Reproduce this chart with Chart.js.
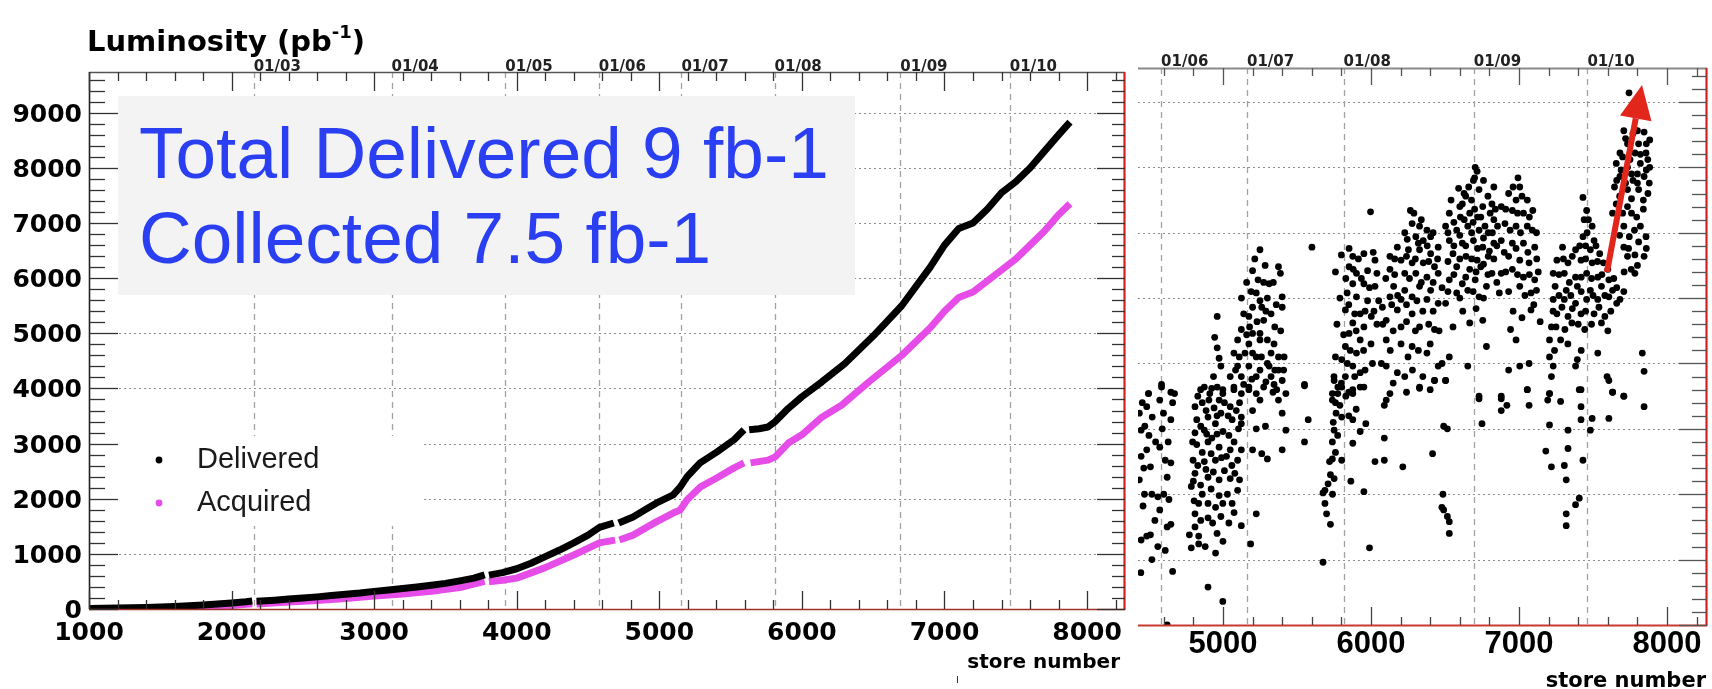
<!DOCTYPE html>
<html><head><meta charset="utf-8">
<script src="https://cdn.jsdelivr.net/npm/chart.js@4.4.1/dist/chart.umd.min.js"></script>
<style>
html,body{margin:0;padding:0;background:#fff;}
#wrap{position:relative;width:1712px;height:689px;overflow:hidden;background:#fff;}
#c1{position:absolute;left:0;top:0;}
#c2{position:absolute;left:1130px;top:0;}
</style></head><body>
<div id="wrap"><canvas id="c1" width="1130" height="689"></canvas><canvas id="c2" width="582" height="689"></canvas></div>
<script>
// ---------- data: left panel (integrated luminosity, pb^-1 vs store number) ----------
const xTicks = [1000, 2000, 3000, 4000, 5000, 6000, 7000, 8000];
const yTicks = [0, 1000, 2000, 3000, 4000, 5000, 6000, 7000, 8000, 9000];
const dateLabels = ['01/03', '01/04', '01/05', '01/06', '01/07', '01/08', '01/09', '01/10'];
const dateStores = [2155, 3122, 3920, 4575, 5155, 5808, 6690, 7458];
const seriesNames = ['Delivered', 'Acquired'];
const delivStore = [1000,1100,1200,1300,1400,1500,1600,1700,1800,1900,2000,2100,2145,2160,2175,2300,2400,2500,2600,2700,2800,2900,3000,3100,3200,3300,3400,3500,3600,3700,3775,3790,3805,3900,4000,4100,4200,4300,4400,4500,4580,4680,4700,4715,4816,4900,4978,5097,5146,5195,5286,5405,5524,5594,5612,5630,5700,5762,5813,5905,6000,6140,6300,6500,6700,6900,7000,7100,7200,7300,7400,7500,7600,7700,7800,7880];
const delivLumi  = [10,12,18,22,28,35,45,58,72,90,110,130,145,null,140,160,180,200,220,245,268,290,320,345,370,400,430,465,510,560,620,null,615,660,730,830,950,1070,1200,1340,1480,1560,null,1560,1670,1800,1920,2070,2210,2400,2650,2850,3070,3250,null,3250,3270,3300,3400,3640,3850,4120,4450,4950,5500,6200,6600,6900,7000,7250,7550,7750,8000,8300,8600,8830];
const acqStore = [1000,1200,1400,1600,1800,2000,2100,2145,2160,2175,2400,2600,2800,3000,3200,3400,3600,3775,3790,3805,3900,4000,4200,4400,4580,4690,4705,4720,4816,4978,5097,5146,5195,5286,5405,5524,5594,5617,5640,5762,5813,5905,6000,6140,6280,6470,6700,6900,7000,7100,7200,7300,7400,7500,7600,7700,7800,7880];
const acqLumi  = [0,5,12,22,40,65,85,95,null,92,125,155,190,235,270,320,390,500,null,495,520,560,750,980,1200,1250,null,1250,1340,1580,1740,1795,1980,2210,2380,2560,2650,null,2650,2700,2760,3010,3160,3480,3700,4120,4600,5100,5400,5650,5750,5950,6150,6350,6600,6850,7150,7350];

// ---------- data: right panel (initial luminosity per store, 1e30 cm^-2 s^-1) ----------
const rightXTicks = [5000, 6000, 7000, 8000];
const rightDateLabels = ['01/06', '01/07', '01/08', '01/09', '01/10'];
const rightDateStores = [4582, 5162, 5815, 6695, 7462];
const rightPoints = [
 [4497,177],[4585,182],[4648,178],[4673,177],
 [4961,236],[4944,220],[4961,212],[4974,204],[4986,198],[4936,190],[4961,182],[4874,182],[4911,177],[4999,180],
 [5250,287],[5200,271],[5237,264],[5275,262],[5312,261],[5375,274],[5388,269],[5225,254],[5250,248],[5200,243],[5262,243],[5325,238],[5400,251],[5400,243],[5175,236],[5275,233],[5124,226],[5200,223],[5250,223],[5350,228],[5099,218],[5175,215],[5250,218],[5300,218],[5074,208],[5149,208],[5225,205],[5325,208],[5375,205],[5413,205],[5099,198],[5175,198],[5250,195],[5312,198],[5375,195],[5049,190],[5124,190],[5225,190],[5325,190],[5400,187],[5074,182],[5175,180],[5275,182],[5363,180],[5425,177],
 [5125,250],[5160,262],[5190,255],[5215,280],[5285,275],[5300,250],[5340,262],[5360,245],[5140,238],[5180,228],[5230,232],[5290,240],[5345,215],[5390,225],[5110,205],[5160,222],[5200,208],[5260,205],[5300,200],[5350,195],[5085,195],[5140,184],[5195,188],[5290,186],[5345,184],[5410,195],
 [5601,289],[5551,183],
 [5852,288],[5877,282],[5952,284],[6015,285],[6027,279],[5852,274],[5902,269],[5977,271],[6040,269],[5877,261],[5952,261],[6027,259],[5839,254],[5902,251],[5977,248],[6052,248],[5827,241],[5927,238],[6002,236],[5877,231],[5952,228],[5852,223],[5927,218],[5827,213],[5902,208],[5802,203],[5877,198],[5927,193],[5827,190],[5776,182],[5877,180],[5952,182],[5739,177],[5997,316],
 [5760,270],[5800,283],[5830,265],[5880,272],[5915,280],[5935,265],[5990,258],[6020,240],[5790,250],[5850,245],[5890,238],[5960,240],[6040,230],[5770,230],[5815,222],[5860,210],[5900,225],[5950,210],[6000,215],[5760,205],[5840,200],[5890,190],[5960,195],[6010,200],[5750,190],[5800,185],[5850,178],
 [6266,317],[6278,307],[6328,305],[6378,302],[6228,300],[6303,297],[6353,294],[6403,297],[6178,289],[6253,287],[6328,287],[6403,284],[6454,289],[6128,282],[6203,279],[6278,277],[6353,277],[6429,274],[6128,272],[6228,269],[6303,269],[6378,266],[6454,269],[6153,259],[6228,256],[6328,259],[6403,256],[6128,251],[6203,249],[6278,251],[6378,249],[6454,246],[6077,243],[6178,241],[6278,238],[6103,233],[6203,228],[6328,228],[6429,226],[6103,218],[6203,215],[6278,213],[6378,208],[6454,198],[6103,198],[6178,193],[6228,190],[6429,187],[6504,187],[6328,182],[6128,177],
 [6290,315],[6340,310],[6245,295],[6320,292],[6380,290],[6420,300],[6160,280],[6240,282],[6300,280],[6390,278],[6450,280],[6100,265],[6160,268],[6260,265],[6340,262],[6420,262],[6480,258],[6140,245],[6180,252],[6240,245],[6310,248],[6350,240],[6420,240],[6080,230],[6150,225],[6240,232],[6300,225],[6390,230],[6460,225],[6130,210],[6250,205],[6320,210],[6400,215],[6150,185],[6280,195],[6350,190],[6480,200],[6070,200],[6240,178],[6400,180],
 [6704,350],[6717,347],[6692,340],[6592,334],[6629,330],[6730,333],[6830,335],[6541,325],[6617,322],[6679,325],[6755,320],[6817,322],[6529,315],[6604,312],[6667,315],[6742,312],[6805,315],[6504,305],[6579,302],[6654,305],[6730,302],[6792,300],[6855,305],[6529,294],[6617,292],[6692,294],[6755,289],[6830,292],[6554,284],[6642,282],[6717,279],[6792,282],[6579,274],[6667,272],[6742,274],[6817,269],[6529,264],[6617,261],[6704,264],[6780,259],[6579,254],[6654,256],[6730,251],[6504,246],[6667,231],[6755,233],[6780,213],[6654,198],[6529,205],[6554,228],[6730,175],
 [6700,342],[6660,335],[6760,340],[6600,320],[6640,328],[6700,318],[6790,328],[6840,318],[6560,308],[6630,310],[6690,308],[6720,312],[6770,305],[6830,310],[6520,300],[6600,298],[6680,300],[6760,296],[6820,300],[6560,290],[6640,290],[6720,288],[6800,286],[6850,290],[6520,278],[6600,280],[6680,280],[6760,276],[6830,280],[6560,268],[6640,266],[6710,270],[6790,268],[6600,250],[6690,255],[6760,250],[6520,255],[6850,262],[6620,240],[6710,242],
 [6993,342],[7005,335],[6930,330],[6980,325],[7056,325],[6880,320],[6955,317],[7030,315],[7093,317],[6905,307],[6980,305],[7056,305],[7118,300],[6880,294],[6955,292],[7030,292],[7106,289],[6930,282],[7005,279],[7068,277],[6880,269],[6955,272],[7030,266],[7106,264],[7005,259],[7081,254],[7118,256],[6867,254],[6943,226],[7081,241],[7143,232],[6980,218],[6930,195],[7005,198],[7068,200],[7056,180],[6880,175],
 [6960,335],[7020,328],[6910,318],[6990,315],[7070,312],[6940,302],[7010,300],[7090,302],[6900,285],[6980,288],[7060,285],[7120,280],[6910,270],[6990,268],[7070,268],[7130,270],[6930,255],[7040,252],[7100,245],[6960,240],[7020,235],
 [7432,327],[7457,317],[7469,310],[7494,305],[7432,297],[7507,294],[7294,289],[7382,287],[7482,287],[7545,284],[7256,279],[7331,277],[7419,279],[7494,277],[7570,277],[7231,269],[7306,269],[7382,266],[7457,269],[7532,266],[7607,264],[7244,259],[7319,256],[7394,259],[7482,256],[7557,259],[7632,256],[7231,249],[7306,249],[7382,246],[7457,249],[7532,249],[7607,251],[7682,249],[7708,255],[7256,238],[7331,236],[7419,238],[7507,238],[7557,231],[7219,228],[7357,231],[7444,226],[7206,218],[7281,218],[7206,205],[7231,198],[7382,198],[7394,203],[7219,190],[7419,180],[7532,208],[7595,190],[7632,178],[7206,177],
 [7440,310],[7460,300],[7410,290],[7450,290],[7520,290],[7300,280],[7360,282],[7450,280],[7530,278],[7600,272],[7270,268],[7340,262],[7420,266],[7490,265],[7560,268],[7640,265],[7270,252],[7350,252],[7420,255],[7500,252],[7580,252],[7660,258],[7230,240],[7290,243],[7360,242],[7450,240],[7540,243],[7620,240],[7660,246],[7250,228],[7310,226],[7400,230],[7490,230],[7580,236],[7240,210],[7330,215],[7420,210],[7600,225],
 [7708,378],[7770,376],[7845,377],[7883,371],[7733,368],[7808,368],[7682,361],[7783,361],[7858,361],[7657,353],[7733,350],[7820,353],[7883,350],[7682,343],[7770,340],[7845,343],[7645,335],[7733,333],[7808,333],[7871,330],[7657,322],[7733,320],[7795,312],[7632,315],[7708,305],[7745,297],[7858,297],[7808,293],[7708,289],[7733,282],[7783,283],[7845,282],[7758,272],[7783,269],[7833,208],[7845,194],[7708,175],[7743,407],
 [7720,372],[7800,378],[7860,368],[7700,358],[7750,356],[7820,360],[7870,356],[7690,348],[7760,345],[7800,345],[7860,348],[7660,340],[7720,338],[7800,338],[7880,338],[7680,328],[7760,326],[7840,325],[7700,315],[7760,315],[7840,318],[7680,298],[7780,302],[7820,305],[7740,288],[7860,288],[7800,275],[7710,270],
 [4435,162],[4472,152],[4447,149],[4497,177],[4485,167],[4522,159],[4447,129],[4485,134],[4510,121],[4435,111],[4460,91],[4485,68],[4447,65],[4510,69],
 [4455,170],[4500,145],[4465,120],[4520,100],[4545,140],[4590,150],[4630,140],[4660,170],[4600,100],[4540,80],[4470,100],[4520,50],[4560,60],[4445,40],
 [4585,184],[4573,172],[4598,162],[4648,157],[4573,136],[4610,126],[4648,124],[4623,113],[4560,98],[4573,88],[4635,96],[4623,75],[4648,77],[4610,57],[4660,41],[4623,0],
 [4849,180],[4924,181],[4999,177],[5074,180],[5124,177],[4811,167],[4886,164],[4974,172],[5049,167],[5112,170],[4823,157],[4899,159],[4986,162],[5062,157],[5124,159],[4811,147],[4874,149],[4949,154],[4823,138],[4899,140],[4974,136],[5049,134],[5124,134],[4798,126],[4874,125],[4949,126],[5024,129],[5099,126],[4811,116],[4899,113],[4974,111],[5049,112],[5112,111],[4786,106],[4849,107],[5099,103],[4974,99],[4836,93],[4899,93],[4999,93],[5062,93],[4811,85],[4899,82],[4986,83],[4811,75],[5124,76],[4773,69],[4836,68],[4836,62],[4786,59],[4899,29],[4999,18],
 [4830,175],[4860,170],[4905,172],[4940,166],[4960,160],[5010,170],[5035,160],[5090,164],[5105,150],[4850,152],[4890,146],[4925,143],[4960,146],[5000,148],[5040,145],[5075,140],[4795,140],[4860,132],[4920,131],[4990,128],[5060,122],[4830,122],[4885,119],[4935,117],[5010,118],[5080,116],[4800,110],[4860,100],[4920,104],[4950,90],[5030,100],[5075,86],[4850,80],[4930,78],[4960,70],[5040,78],[4805,95],[4880,60],[4950,55],[5000,64],
 [5175,182],[5225,177],[5250,172],[5200,164],[5124,154],[5225,150],[5287,152],[5338,178],[5375,172],[5400,162],[5425,149],[5400,134],[5200,134],[5262,131],[5300,127],[5225,85],[5187,62],[5551,184],[5576,157],[5551,140],
 [5751,187],[5776,177],[5802,182],[5739,172],[5764,162],[5802,159],[5877,157],[5751,149],[5739,140],[5739,127],[5802,126],[5726,115],[5751,112],[5689,103],[5676,101],[5689,93],[5726,77],[5676,48],[5864,110],[5877,139],[5927,148],[5965,154],[5952,102],[5990,59],[5927,182],[5877,177],
 [5760,170],[5790,168],[5745,155],[5775,145],[5760,132],[5720,125],[5710,108],[5740,100],[5700,85],[5830,175],[5850,160],[5900,165],
 [6103,172],[6090,168],[6090,143],[6027,125],[6090,126],[6215,121],[6328,181],[6429,187],[6504,187],[6491,152],[6516,150],[6416,131],[6486,100],[6479,90],[6491,88],[6516,83],[6529,79],[6529,70],
 [6730,173],[6750,154],[6880,173],[6880,164],[6918,168],[7068,168],[7056,180],[7206,177],[7194,172],[7281,171],[7206,153],[7181,133],[7219,121],[7331,149],[7331,135],[7306,122],[7319,111],[7382,92],[7407,97],[7319,85],[7319,76],[7432,126],[7419,167],[7407,180],[7482,149],[7494,158],[7419,157],[7607,158],[7632,178],[7708,175],[7607,187],[7845,167]
];
const arrowFrom = [7594, 270];
const arrowTo = [7831, 413];

// ---------- styling ----------
const MAG = '#e54ce8';
const BLUE = '#2b3ff2';

function seg(ctx, x1, y1, x2, y2, color, w, pattern) {
  ctx.save(); ctx.beginPath(); ctx.setLineDash(pattern || []);
  ctx.strokeStyle = color; ctx.lineWidth = w;
  ctx.moveTo(x1, y1); ctx.lineTo(x2, y2); ctx.stroke(); ctx.restore();
}
function isMajor(v, m) { return Math.abs(v / m - Math.round(v / m)) < 1e-6; }
function xTickMarks(ctx, sc, from, to, step, maj, y, dir, lMaj, lMin, color) {
  for (let v = from; v <= to + 1e-6; v += step) {
    const x = Math.round(sc.getPixelForValue(v)) + 0.5;
    const L = isMajor(v, maj) ? lMaj : lMin;
    seg(ctx, x, y, x, y + dir * L, color, 1.3);
  }
}
function yTickMarks(ctx, sc, from, to, step, maj, x, dir, lMaj, lMin, color) {
  for (let v = from; v <= to + 1e-6; v += step) {
    const y = Math.round(sc.getPixelForValue(v)) + 0.5;
    const L = isMajor(v, maj) ? lMaj : lMin;
    seg(ctx, x, y, x + dir * L, y, color, 1.3);
  }
}

// ---------- left chart ----------
const leftDecor = {
  id: 'leftDecor',
  beforeDatasetsDraw(chart) {
    const ctx = chart.ctx, a = chart.chartArea, xs = chart.scales.x, ys = chart.scales.y;
    yTicks.forEach(v => { if (v > 0) { const y = Math.round(ys.getPixelForValue(v)) + 0.5; seg(ctx, a.left, y, a.right, y, '#8e8e8e', 1, [2, 3]); } });
    dateStores.forEach(v => { const x = Math.round(xs.getPixelForValue(v)) + 0.5; seg(ctx, x, a.top, x, a.bottom, '#a2a2a2', 1.3, [6, 5]); });
    ctx.save();
    ctx.fillStyle = '#ffffff'; ctx.fillRect(a.left + 1, 436, 332, 90);
    ctx.fillStyle = '#f3f3f3'; ctx.fillRect(118, 96, 737, 199);
    ctx.restore();
  },
  afterDraw(chart) {
    const ctx = chart.ctx, a = chart.chartArea, xs = chart.scales.x, ys = chart.scales.y;
    ctx.save();
    // big annotation
    ctx.fillStyle = BLUE; ctx.font = '73px "Liberation Sans"'; ctx.textBaseline = 'alphabetic'; ctx.textAlign = 'left';
    ctx.fillText('Total Delivered 9 fb-1', 139, 178);
    ctx.fillText('Collected 7.5 fb-1', 139, 263);
    // legend
    const ds = chart.data.datasets;
    [[460, ds[0]], [503, ds[1]]].forEach(([y, d]) => {
      ctx.fillStyle = d.borderColor; ctx.beginPath(); ctx.arc(159, y, 3.4, 0, Math.PI * 2); ctx.fill();
      ctx.fillStyle = '#1a1a1a'; ctx.font = '29px "Liberation Sans"'; ctx.textBaseline = 'middle';
      ctx.fillText(d.label, 197, y);
    });
    // frame
    seg(ctx, a.left, a.top + 0.5, a.right, a.top + 0.5, '#555', 1.6);
    seg(ctx, a.left + 0.5, a.top, a.left + 0.5, a.bottom, '#222', 1.6);
    seg(ctx, a.left, a.bottom + 0.5, a.right, a.bottom + 0.5, '#a0302a', 1.6);
    seg(ctx, a.right - 0.5, a.top, a.right - 0.5, a.bottom + 1, '#d42020', 2.2);
    // tick marks
    xTickMarks(ctx, xs, 1000, 8200, 200, 1000, a.bottom, -1, 18, 9, '#333');
    xTickMarks(ctx, xs, 1000, 8200, 200, 1000, a.top, 1, 19, 9, '#333');
    yTickMarks(ctx, ys, 0, 9600, 200, 1000, a.left, 1, 29, 16, '#333');
    yTickMarks(ctx, ys, 0, 9600, 200, 1000, a.right, -1, 28, 13, '#333');
    // tick labels
    ctx.fillStyle = '#000'; ctx.font = 'bold 25px "DejaVu Sans"'; ctx.textBaseline = 'alphabetic';
    ctx.textAlign = 'center';
    xs.ticks.forEach(t => ctx.fillText(String(t.value), xs.getPixelForValue(t.value), 640));
    ctx.textAlign = 'right';
    ys.ticks.forEach(t => ctx.fillText(String(t.value), 82, ys.getPixelForValue(t.value) + 9));
    // date labels
    ctx.fillStyle = '#222'; ctx.font = 'bold 15px "DejaVu Sans"'; ctx.textAlign = 'left';
    dateStores.forEach((v, i) => ctx.fillText(dateLabels[i], xs.getPixelForValue(v), a.top - 1));
    // title
    ctx.fillStyle = '#000'; ctx.font = 'bold 29px "DejaVu Sans"';
    let tx = 87; const t1 = 'Luminosity (pb';
    ctx.fillText(t1, tx, 51); tx += ctx.measureText(t1).width;
    ctx.font = 'bold 18px "DejaVu Sans"'; ctx.fillText('-1', tx, 38); tx += ctx.measureText('-1').width;
    ctx.font = 'bold 29px "DejaVu Sans"'; ctx.fillText(')', tx, 51);
    // axis title
    ctx.font = 'bold 20px "DejaVu Sans"'; ctx.textAlign = 'right';
    ctx.fillText('store number', 1120, 668);
    ctx.restore();
    seg(ctx, 957.5, 676, 957.5, 683, '#333', 1);
  }
};

new Chart(document.getElementById('c1'), {
  type: 'line',
  data: {
    datasets: [
      { label: seriesNames[0], data: delivStore.map((s, i) => ({ x: s, y: delivLumi[i] })), borderColor: '#000', backgroundColor: '#000', borderWidth: 7, pointRadius: 0, spanGaps: false, tension: 0, borderJoinStyle: 'round' },
      { label: seriesNames[1], data: acqStore.map((s, i) => ({ x: s, y: acqLumi[i] })), borderColor: MAG, backgroundColor: MAG, borderWidth: 7, pointRadius: 0, spanGaps: false, tension: 0, borderJoinStyle: 'round' }
    ]
  },
  options: {
    responsive: false, animation: false, events: [],
    layout: { padding: { left: 0, top: 72, right: 5, bottom: 0 } },
    plugins: { legend: { display: false }, tooltip: { enabled: false } },
    scales: {
      x: {
        type: 'linear', min: 1000, max: 8266,
        grid: { display: false }, border: { display: false },
        afterBuildTicks: s => { s.ticks = xTicks.map(v => ({ value: v })); },
        afterFit: s => { s.height = 80; },
        ticks: { display: false }
      },
      y: {
        type: 'linear', min: 0, max: 9740,
        grid: { display: false }, border: { display: false },
        afterBuildTicks: s => { s.ticks = yTicks.map(v => ({ value: v })); },
        afterFit: s => { s.width = 89; },
        ticks: { display: false }
      }
    }
  },
  plugins: [leftDecor]
});

// ---------- right chart ----------
const rightDecor = {
  id: 'rightDecor',
  beforeDatasetsDraw(chart) {
    const ctx = chart.ctx, a = chart.chartArea, xs = chart.scales.x, ys = chart.scales.y;
    for (let v = 50; v <= 400; v += 50) { const y = Math.round(ys.getPixelForValue(v)) + 0.5; seg(ctx, a.left, y, a.right, y, '#8e8e8e', 1, [2, 3]); }
    rightDateStores.forEach(v => { const x = Math.round(xs.getPixelForValue(v)) + 0.5; seg(ctx, x, a.top, x, a.bottom, '#a2a2a2', 1.3, [6, 5]); });
  },
  afterDraw(chart) {
    const ctx = chart.ctx, a = chart.chartArea, xs = chart.scales.x, ys = chart.scales.y;
    // arrow
    const x1 = xs.getPixelForValue(arrowFrom[0]), y1 = ys.getPixelForValue(arrowFrom[1]);
    const x2 = xs.getPixelForValue(arrowTo[0]), y2 = ys.getPixelForValue(arrowTo[1]);
    const ang = Math.atan2(y2 - y1, x2 - x1), hl = 34, hw = 16;
    const bx = x2 - hl * Math.cos(ang), by = y2 - hl * Math.sin(ang);
    ctx.save();
    seg(ctx, x1, y1, bx, by, '#e3261c', 6);
    ctx.fillStyle = '#e3261c'; ctx.beginPath();
    ctx.moveTo(x2, y2);
    ctx.lineTo(bx + hw * Math.sin(ang), by - hw * Math.cos(ang));
    ctx.lineTo(bx - hw * Math.sin(ang), by + hw * Math.cos(ang));
    ctx.closePath(); ctx.fill();
    ctx.restore();
    // frame
    seg(ctx, a.left, a.top + 0.5, a.right, a.top + 0.5, '#8a8a8a', 2);
    seg(ctx, a.left, a.bottom + 0.5, a.right, a.bottom + 0.5, '#c83a30', 2);
    seg(ctx, a.right - 0.5, a.top, a.right - 0.5, a.bottom + 1, '#d42020', 2.2);
    xTickMarks(ctx, xs, 4600, 8200, 200, 1000, a.bottom, -1, 18, 8, '#444');
    xTickMarks(ctx, xs, 4600, 8200, 200, 1000, a.top, 1, 17, 8, '#555');
    yTickMarks(ctx, ys, 0, 420, 10, 50, a.right, -1, 28, 15, '#555');
    ctx.save();
    ctx.fillStyle = '#000'; ctx.font = 'bold 31px "Liberation Sans"'; ctx.textAlign = 'center'; ctx.textBaseline = 'alphabetic';
    xs.ticks.forEach(t => ctx.fillText(String(t.value), xs.getPixelForValue(t.value), 653));
    ctx.fillStyle = '#222'; ctx.font = 'bold 15px "DejaVu Sans"'; ctx.textAlign = 'left';
    rightDateStores.forEach((v, i) => ctx.fillText(rightDateLabels[i], xs.getPixelForValue(v), a.top - 2));
    ctx.fillStyle = '#000'; ctx.font = 'bold 21px "DejaVu Sans"'; ctx.textAlign = 'right';
    ctx.fillText('store number', 576, 687);
    ctx.restore();
  }
};

new Chart(document.getElementById('c2'), {
  type: 'scatter',
  data: { datasets: [{ label: 'Initial luminosity', data: rightPoints.map(p => ({ x: p[0], y: p[1] })), backgroundColor: '#000', borderColor: '#000', pointRadius: 3.4, borderWidth: 0 }] },
  options: {
    responsive: false, animation: false, events: [],
    layout: { padding: { left: 8, top: 68, right: 5, bottom: 0 } },
    plugins: { legend: { display: false }, tooltip: { enabled: false } },
    scales: {
      x: {
        type: 'linear', min: 4426, max: 8270,
        grid: { display: false }, border: { display: false },
        afterBuildTicks: s => { s.ticks = rightXTicks.map(v => ({ value: v })); },
        afterFit: s => { s.height = 64; },
        ticks: { display: false }
      },
      y: { type: 'linear', min: 0, max: 426, display: false }
    }
  },
  plugins: [rightDecor]
});
</script>
</body></html>
